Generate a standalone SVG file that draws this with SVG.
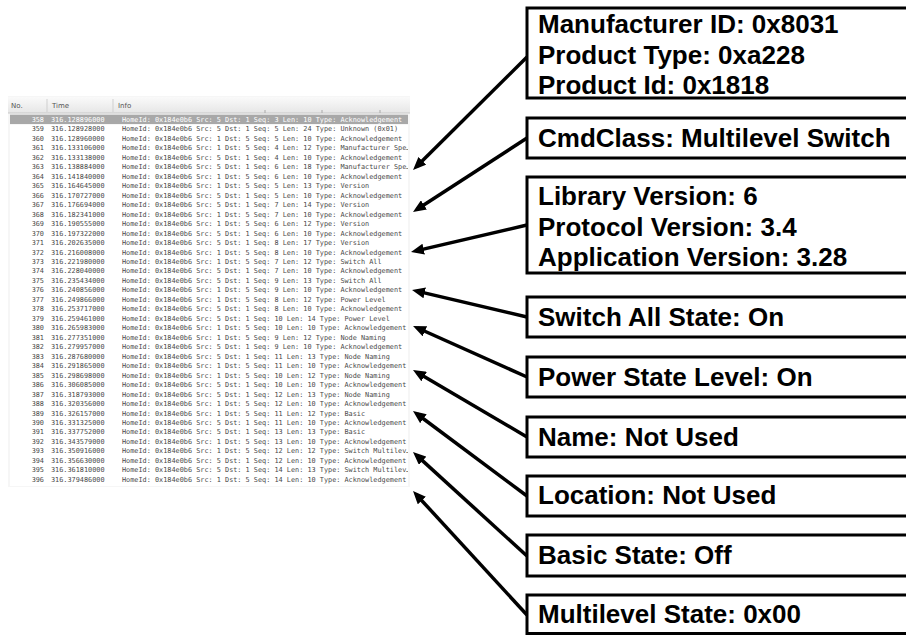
<svg xmlns="http://www.w3.org/2000/svg" width="906" height="635" viewBox="0 0 906 635">
<style>
.row{font-family:"DejaVu Sans Mono","Liberation Mono",monospace;font-size:6.85px;fill:#4a4a4a}
.sel{fill:#ffffff}
.num{text-anchor:end}
.hdr{font-family:"DejaVu Sans","Liberation Sans",sans-serif;font-size:7px;fill:#555}
.box rect{fill:#fff;stroke:#000;stroke-width:3}
.box text{font-family:"Liberation Sans",Arial,sans-serif;font-weight:bold;font-size:26px;fill:#000}
.conn line{stroke:#000;stroke-width:3.5;marker-end:url(#ah)}
</style>
<defs>
<marker id="ah" markerUnits="userSpaceOnUse" markerWidth="13" markerHeight="11" refX="8" refY="5.5" orient="auto">
<path d="M0,0 L13,5.5 L0,11 z" fill="#000"/>
</marker>
<linearGradient id="hg" x1="0" y1="0" x2="0" y2="1">
<stop offset="0" stop-color="#fafafa"/>
<stop offset="1" stop-color="#e6e6e6"/>
</linearGradient>
<clipPath id="tc"><rect x="8" y="96" width="400" height="392"/></clipPath>
</defs>
<rect width="906" height="635" fill="#fff"/>

<g id="table">
<rect x="8" y="96" width="402" height="391" fill="#f6f6f6"/>
<rect x="10" y="114" width="398" height="372" fill="#fff"/>
<rect x="8" y="97" width="402" height="16" fill="url(#hg)"/>
<line x1="8" y1="113" x2="410" y2="113" stroke="#c8c8c8" stroke-width="1"/>
<line x1="47" y1="99" x2="47" y2="112" stroke="#cfcfcf" stroke-width="1"/>
<line x1="113" y1="99" x2="113" y2="112" stroke="#cfcfcf" stroke-width="1"/>
<line x1="265" y1="110" x2="265" y2="113" stroke="#aaa" stroke-width="1"/>
<line x1="322" y1="110" x2="322" y2="113" stroke="#aaa" stroke-width="1"/>
<line x1="380" y1="110" x2="380" y2="113" stroke="#aaa" stroke-width="1"/>
<text class="hdr" x="11" y="108">No.</text>
<text class="hdr" x="52" y="108">Time</text>
<text class="hdr" x="118" y="108">Info</text>
<rect x="10" y="114.6" width="398" height="9.5" fill="#a8a8a8"/>
<g clip-path="url(#tc)">
<g class="row">
<text class="sel num" x="44" y="121.9">358</text><text class="sel" x="51" y="121.9">316.128896000</text><text class="sel" x="122" y="121.9">HomeId: 0x184e0b6 Src: 5 Dst: 1 Seq: 3 Len: 10 Type: Acknowledgement</text>
<text class="num" x="44" y="131.4">359</text><text x="51" y="131.4">316.128928000</text><text x="122" y="131.4">HomeId: 0x184e0b6 Src: 5 Dst: 1 Seq: 5 Len: 24 Type: Unknown (0x01)</text>
<text class="num" x="44" y="140.8">360</text><text x="51" y="140.8">316.128960000</text><text x="122" y="140.8">HomeId: 0x184e0b6 Src: 1 Dst: 5 Seq: 5 Len: 10 Type: Acknowledgement</text>
<text class="num" x="44" y="150.3">361</text><text x="51" y="150.3">316.133106000</text><text x="122" y="150.3">HomeId: 0x184e0b6 Src: 1 Dst: 5 Seq: 4 Len: 12 Type: Manufacturer Spe…</text>
<text class="num" x="44" y="159.8">362</text><text x="51" y="159.8">316.133138000</text><text x="122" y="159.8">HomeId: 0x184e0b6 Src: 5 Dst: 1 Seq: 4 Len: 10 Type: Acknowledgement</text>
<text class="num" x="44" y="169.3">363</text><text x="51" y="169.3">316.138884000</text><text x="122" y="169.3">HomeId: 0x184e0b6 Src: 5 Dst: 1 Seq: 6 Len: 18 Type: Manufacturer Spe…</text>
<text class="num" x="44" y="178.7">364</text><text x="51" y="178.7">316.141840000</text><text x="122" y="178.7">HomeId: 0x184e0b6 Src: 1 Dst: 5 Seq: 6 Len: 10 Type: Acknowledgement</text>
<text class="num" x="44" y="188.2">365</text><text x="51" y="188.2">316.164645000</text><text x="122" y="188.2">HomeId: 0x184e0b6 Src: 1 Dst: 5 Seq: 5 Len: 13 Type: Version</text>
<text class="num" x="44" y="197.7">366</text><text x="51" y="197.7">316.170727000</text><text x="122" y="197.7">HomeId: 0x184e0b6 Src: 5 Dst: 1 Seq: 5 Len: 10 Type: Acknowledgement</text>
<text class="num" x="44" y="207.1">367</text><text x="51" y="207.1">316.176694000</text><text x="122" y="207.1">HomeId: 0x184e0b6 Src: 5 Dst: 1 Seq: 7 Len: 14 Type: Version</text>
<text class="num" x="44" y="216.6">368</text><text x="51" y="216.6">316.182341000</text><text x="122" y="216.6">HomeId: 0x184e0b6 Src: 1 Dst: 5 Seq: 7 Len: 10 Type: Acknowledgement</text>
<text class="num" x="44" y="226.1">369</text><text x="51" y="226.1">316.190555000</text><text x="122" y="226.1">HomeId: 0x184e0b6 Src: 1 Dst: 5 Seq: 6 Len: 12 Type: Version</text>
<text class="num" x="44" y="235.5">370</text><text x="51" y="235.5">316.197322000</text><text x="122" y="235.5">HomeId: 0x184e0b6 Src: 5 Dst: 1 Seq: 6 Len: 10 Type: Acknowledgement</text>
<text class="num" x="44" y="245.0">371</text><text x="51" y="245.0">316.202635000</text><text x="122" y="245.0">HomeId: 0x184e0b6 Src: 5 Dst: 1 Seq: 8 Len: 17 Type: Version</text>
<text class="num" x="44" y="254.5">372</text><text x="51" y="254.5">316.216008000</text><text x="122" y="254.5">HomeId: 0x184e0b6 Src: 1 Dst: 5 Seq: 8 Len: 10 Type: Acknowledgement</text>
<text class="num" x="44" y="263.9">373</text><text x="51" y="263.9">316.221980000</text><text x="122" y="263.9">HomeId: 0x184e0b6 Src: 1 Dst: 5 Seq: 7 Len: 12 Type: Switch All</text>
<text class="num" x="44" y="273.4">374</text><text x="51" y="273.4">316.228040000</text><text x="122" y="273.4">HomeId: 0x184e0b6 Src: 5 Dst: 1 Seq: 7 Len: 10 Type: Acknowledgement</text>
<text class="num" x="44" y="282.9">375</text><text x="51" y="282.9">316.235434000</text><text x="122" y="282.9">HomeId: 0x184e0b6 Src: 5 Dst: 1 Seq: 9 Len: 13 Type: Switch All</text>
<text class="num" x="44" y="292.4">376</text><text x="51" y="292.4">316.240856000</text><text x="122" y="292.4">HomeId: 0x184e0b6 Src: 1 Dst: 5 Seq: 9 Len: 10 Type: Acknowledgement</text>
<text class="num" x="44" y="301.8">377</text><text x="51" y="301.8">316.249866000</text><text x="122" y="301.8">HomeId: 0x184e0b6 Src: 1 Dst: 5 Seq: 8 Len: 12 Type: Power Level</text>
<text class="num" x="44" y="311.3">378</text><text x="51" y="311.3">316.253717000</text><text x="122" y="311.3">HomeId: 0x184e0b6 Src: 5 Dst: 1 Seq: 8 Len: 10 Type: Acknowledgement</text>
<text class="num" x="44" y="320.8">379</text><text x="51" y="320.8">316.259461000</text><text x="122" y="320.8">HomeId: 0x184e0b6 Src: 5 Dst: 1 Seq: 10 Len: 14 Type: Power Level</text>
<text class="num" x="44" y="330.2">380</text><text x="51" y="330.2">316.265983000</text><text x="122" y="330.2">HomeId: 0x184e0b6 Src: 1 Dst: 5 Seq: 10 Len: 10 Type: Acknowledgement</text>
<text class="num" x="44" y="339.7">381</text><text x="51" y="339.7">316.277351000</text><text x="122" y="339.7">HomeId: 0x184e0b6 Src: 1 Dst: 5 Seq: 9 Len: 12 Type: Node Naming</text>
<text class="num" x="44" y="349.2">382</text><text x="51" y="349.2">316.279957000</text><text x="122" y="349.2">HomeId: 0x184e0b6 Src: 5 Dst: 1 Seq: 9 Len: 10 Type: Acknowledgement</text>
<text class="num" x="44" y="358.7">383</text><text x="51" y="358.7">316.287680000</text><text x="122" y="358.7">HomeId: 0x184e0b6 Src: 5 Dst: 1 Seq: 11 Len: 13 Type: Node Naming</text>
<text class="num" x="44" y="368.1">384</text><text x="51" y="368.1">316.291865000</text><text x="122" y="368.1">HomeId: 0x184e0b6 Src: 1 Dst: 5 Seq: 11 Len: 10 Type: Acknowledgement</text>
<text class="num" x="44" y="377.6">385</text><text x="51" y="377.6">316.298698000</text><text x="122" y="377.6">HomeId: 0x184e0b6 Src: 1 Dst: 5 Seq: 10 Len: 12 Type: Node Naming</text>
<text class="num" x="44" y="387.1">386</text><text x="51" y="387.1">316.306085000</text><text x="122" y="387.1">HomeId: 0x184e0b6 Src: 5 Dst: 1 Seq: 10 Len: 10 Type: Acknowledgement</text>
<text class="num" x="44" y="396.5">387</text><text x="51" y="396.5">316.318793000</text><text x="122" y="396.5">HomeId: 0x184e0b6 Src: 5 Dst: 1 Seq: 12 Len: 13 Type: Node Naming</text>
<text class="num" x="44" y="406.0">388</text><text x="51" y="406.0">316.320356000</text><text x="122" y="406.0">HomeId: 0x184e0b6 Src: 1 Dst: 5 Seq: 12 Len: 10 Type: Acknowledgement</text>
<text class="num" x="44" y="415.5">389</text><text x="51" y="415.5">316.326157000</text><text x="122" y="415.5">HomeId: 0x184e0b6 Src: 1 Dst: 5 Seq: 11 Len: 12 Type: Basic</text>
<text class="num" x="44" y="424.9">390</text><text x="51" y="424.9">316.331325000</text><text x="122" y="424.9">HomeId: 0x184e0b6 Src: 5 Dst: 1 Seq: 11 Len: 10 Type: Acknowledgement</text>
<text class="num" x="44" y="434.4">391</text><text x="51" y="434.4">316.337752000</text><text x="122" y="434.4">HomeId: 0x184e0b6 Src: 5 Dst: 1 Seq: 13 Len: 13 Type: Basic</text>
<text class="num" x="44" y="443.9">392</text><text x="51" y="443.9">316.343579000</text><text x="122" y="443.9">HomeId: 0x184e0b6 Src: 1 Dst: 5 Seq: 13 Len: 10 Type: Acknowledgement</text>
<text class="num" x="44" y="453.4">393</text><text x="51" y="453.4">316.350916000</text><text x="122" y="453.4">HomeId: 0x184e0b6 Src: 1 Dst: 5 Seq: 12 Len: 12 Type: Switch Multilev…</text>
<text class="num" x="44" y="462.8">394</text><text x="51" y="462.8">316.356630000</text><text x="122" y="462.8">HomeId: 0x184e0b6 Src: 5 Dst: 1 Seq: 12 Len: 10 Type: Acknowledgement</text>
<text class="num" x="44" y="472.3">395</text><text x="51" y="472.3">316.361810000</text><text x="122" y="472.3">HomeId: 0x184e0b6 Src: 5 Dst: 1 Seq: 14 Len: 13 Type: Switch Multilev…</text>
<text class="num" x="44" y="481.8">396</text><text x="51" y="481.8">316.379486000</text><text x="122" y="481.8">HomeId: 0x184e0b6 Src: 1 Dst: 5 Seq: 14 Len: 10 Type: Acknowledgement</text>
</g>
</g>
</g>

<g id="connectors" class="conn">
<line x1="527" y1="57" x2="416.6" y2="166.5"/>
<line x1="527" y1="138" x2="417.2" y2="209.3"/>
<line x1="527" y1="225" x2="415.9" y2="250.9"/>
<line x1="527" y1="317" x2="416.9" y2="291.1"/>
<line x1="527" y1="377" x2="417.6" y2="328.0"/>
<line x1="527" y1="437" x2="417.3" y2="372.5"/>
<line x1="527" y1="496" x2="417.0" y2="414.0"/>
<line x1="527" y1="556" x2="416.7" y2="455.4"/>
<line x1="527" y1="615" x2="416.4" y2="494.7"/>
</g>

<g id="box-manufacturer" class="box">
<rect x="527" y="8" width="400" height="90"/>
<text x="538" y="33">Manufacturer ID: 0x8031</text>
<text x="538" y="63.5">Product Type: 0xa228</text>
<text x="538" y="94">Product Id: 0x1818</text>
</g>
<g id="box-cmdclass" class="box">
<rect x="527" y="118" width="400" height="40"/>
<text x="538" y="147">CmdClass: Multilevel Switch</text>
</g>
<g id="box-version" class="box">
<rect x="527" y="177" width="400" height="96"/>
<text x="538" y="205">Library Version: 6</text>
<text x="538" y="236">Protocol Version: 3.4</text>
<text x="538" y="266">Application Version: 3.28</text>
</g>
<g id="box-switchall" class="box">
<rect x="527" y="297" width="400" height="40"/>
<text x="538" y="326">Switch All State: On</text>
</g>
<g id="box-power" class="box">
<rect x="527" y="357" width="400" height="40"/>
<text x="538" y="386">Power State Level: On</text>
</g>
<g id="box-name" class="box">
<rect x="527" y="417" width="400" height="40"/>
<text x="538" y="446">Name: Not Used</text>
</g>
<g id="box-location" class="box">
<rect x="527" y="476" width="400" height="40"/>
<text x="538" y="504">Location: Not Used</text>
</g>
<g id="box-basic" class="box">
<rect x="527" y="535" width="400" height="41"/>
<text x="538" y="564">Basic State: Off</text>
</g>
<g id="box-multilevel" class="box">
<rect x="527" y="595" width="400" height="38.5"/>
<text x="538" y="623">Multilevel State: 0x00</text>
</g>
</svg>
